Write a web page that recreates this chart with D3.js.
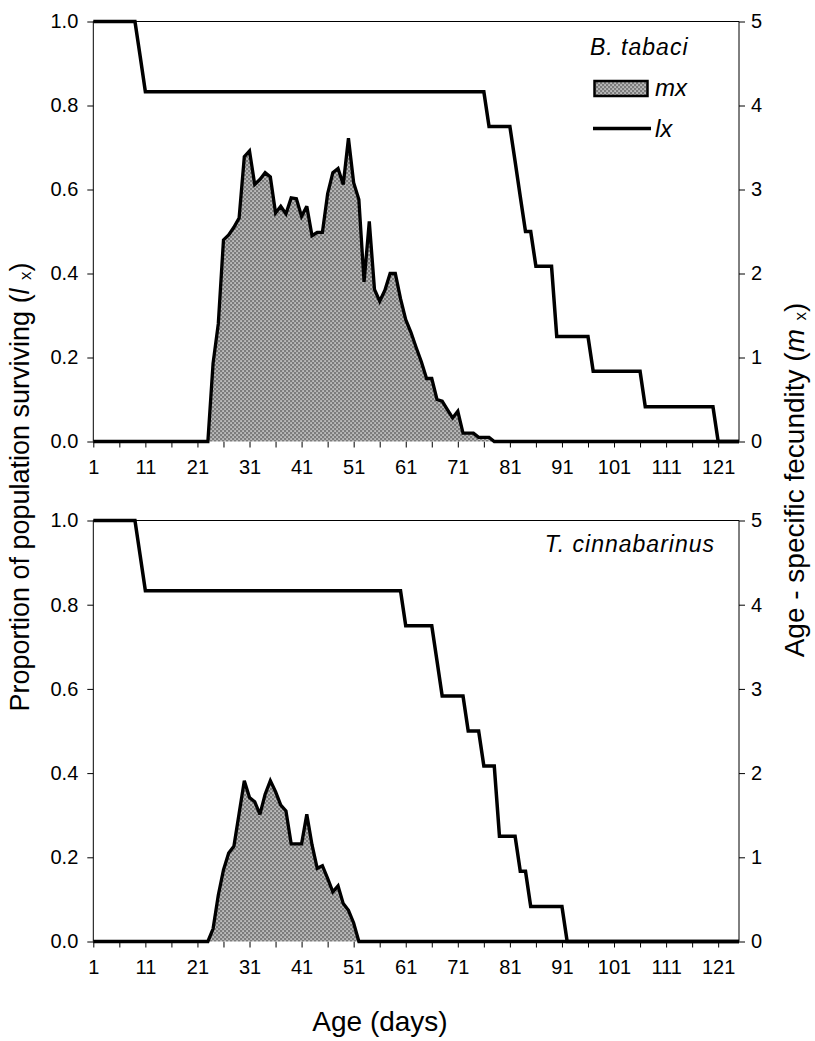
<!DOCTYPE html>
<html>
<head>
<meta charset="utf-8">
<script src="https://cdn.jsdelivr.net/npm/d3@7/dist/d3.min.js"></script>
<style>
  body { margin: 0; background: #fff; }
  svg { display: block; font-family: "Liberation Sans", Arial, sans-serif; }
</style>
</head>
<body>
<div id="chart"></div>
<script>
// age in days, one value per day
const ages = d3.range(1, 126);
const xTickValues = d3.range(1, 122, 5);
const xLabelValues = d3.range(1, 122, 10);
const lxTickValues = [0, 0.2, 0.4, 0.6, 0.8, 1.0];
const mxTickValues = [0, 1, 2, 3, 4, 5];

// B. tabaci survival (lx) and fecundity (mx)
const lxTabaci = [
  1, 1, 1, 1, 1, 1, 1, 1, 1, 0.917,
  0.833, 0.833, 0.833, 0.833, 0.833, 0.833, 0.833, 0.833, 0.833, 0.833,
  0.833, 0.833, 0.833, 0.833, 0.833, 0.833, 0.833, 0.833, 0.833, 0.833,
  0.833, 0.833, 0.833, 0.833, 0.833, 0.833, 0.833, 0.833, 0.833, 0.833,
  0.833, 0.833, 0.833, 0.833, 0.833, 0.833, 0.833, 0.833, 0.833, 0.833,
  0.833, 0.833, 0.833, 0.833, 0.833, 0.833, 0.833, 0.833, 0.833, 0.833,
  0.833, 0.833, 0.833, 0.833, 0.833, 0.833, 0.833, 0.833, 0.833, 0.833,
  0.833, 0.833, 0.833, 0.833, 0.833, 0.833, 0.75, 0.75, 0.75, 0.75,
  0.75, 0.667, 0.583, 0.5, 0.5, 0.417, 0.417, 0.417, 0.417, 0.25,
  0.25, 0.25, 0.25, 0.25, 0.25, 0.25, 0.167, 0.167, 0.167, 0.167,
  0.167, 0.167, 0.167, 0.167, 0.167, 0.167, 0.083, 0.083, 0.083, 0.083,
  0.083, 0.083, 0.083, 0.083, 0.083, 0.083, 0.083, 0.083, 0.083, 0.083,
  0, 0, 0, 0, 0
];
const mxTabaci = [
  0, 0, 0, 0, 0, 0, 0, 0, 0, 0,
  0, 0, 0, 0, 0, 0, 0, 0, 0, 0,
  0, 0, 0, 0.93, 1.40, 2.40, 2.46, 2.55, 2.66, 3.39,
  3.46, 3.06, 3.12, 3.20, 3.15, 2.72, 2.80, 2.71, 2.90, 2.89,
  2.68, 2.80, 2.45, 2.49, 2.49, 2.95, 3.20, 3.25, 3.06, 3.61,
  3.08, 2.88, 1.90, 2.62, 1.81, 1.67, 1.80, 2.00, 2.00, 1.70,
  1.45, 1.30, 1.12, 0.95, 0.75, 0.75, 0.50, 0.48, 0.38, 0.28,
  0.36, 0.10, 0.10, 0.10, 0.05, 0.05, 0.05, 0, 0, 0,
  0, 0, 0, 0, 0, 0, 0, 0, 0, 0,
  0, 0, 0, 0, 0, 0, 0, 0, 0, 0,
  0, 0, 0, 0, 0, 0, 0, 0, 0, 0,
  0, 0, 0, 0, 0, 0, 0, 0, 0, 0,
  0, 0, 0, 0, 0
];

// T. cinnabarinus survival (lx) and fecundity (mx)
const lxCinna = [
  1, 1, 1, 1, 1, 1, 1, 1, 1, 0.917,
  0.833, 0.833, 0.833, 0.833, 0.833, 0.833, 0.833, 0.833, 0.833, 0.833,
  0.833, 0.833, 0.833, 0.833, 0.833, 0.833, 0.833, 0.833, 0.833, 0.833,
  0.833, 0.833, 0.833, 0.833, 0.833, 0.833, 0.833, 0.833, 0.833, 0.833,
  0.833, 0.833, 0.833, 0.833, 0.833, 0.833, 0.833, 0.833, 0.833, 0.833,
  0.833, 0.833, 0.833, 0.833, 0.833, 0.833, 0.833, 0.833, 0.833, 0.833,
  0.75, 0.75, 0.75, 0.75, 0.75, 0.75, 0.667, 0.583, 0.583, 0.583,
  0.583, 0.583, 0.5, 0.5, 0.5, 0.417, 0.417, 0.417, 0.25, 0.25,
  0.25, 0.25, 0.167, 0.167, 0.083, 0.083, 0.083, 0.083, 0.083, 0.083,
  0.083, 0, 0, 0, 0, 0, 0, 0, 0, 0,
  0, 0, 0, 0, 0, 0, 0, 0, 0, 0,
  0, 0, 0, 0, 0, 0, 0, 0, 0, 0,
  0, 0, 0, 0, 0
];
const mxCinna = [
  0, 0, 0, 0, 0, 0, 0, 0, 0, 0,
  0, 0, 0, 0, 0, 0, 0, 0, 0, 0,
  0, 0, 0, 0.15, 0.55, 0.85, 1.05, 1.13, 1.52, 1.91,
  1.71, 1.66, 1.51, 1.75, 1.91, 1.78, 1.62, 1.55, 1.16, 1.16,
  1.16, 1.51, 1.15, 0.87, 0.90, 0.75, 0.59, 0.66, 0.45, 0.37,
  0.22, 0, 0, 0, 0, 0, 0, 0, 0, 0,
  0, 0, 0, 0, 0, 0, 0, 0, 0, 0,
  0, 0, 0, 0, 0, 0, 0, 0, 0, 0,
  0, 0, 0, 0, 0, 0, 0, 0, 0, 0,
  0, 0, 0, 0, 0, 0, 0, 0, 0, 0,
  0, 0, 0, 0, 0, 0, 0, 0, 0, 0,
  0, 0, 0, 0, 0, 0, 0, 0, 0, 0,
  0, 0, 0, 0, 0
];

const width = 815, height = 1041;
const left = 93.3, right = 739;

const svg = d3.select("#chart").append("svg")
    .attr("width", width)
    .attr("height", height);

// gray cross-hatch fill used for mx
const pat = svg.append("defs").append("pattern")
    .attr("id", "hatch")
    .attr("patternUnits", "userSpaceOnUse")
    .attr("width", 4).attr("height", 4);
pat.append("rect").attr("width", 4).attr("height", 4).attr("fill", "#7c7c7c");
pat.append("rect").attr("x", 0.4).attr("y", 0.4).attr("width", 1.3).attr("height", 1.3).attr("fill", "#fff");
pat.append("rect").attr("x", 2.4).attr("y", 2.4).attr("width", 1.3).attr("height", 1.3).attr("fill", "#fff");

const x = d3.scaleLinear().domain([1, 125]).range([left, right]);

function drawPanel(top, bottom, lx, mx) {
    const yL = d3.scaleLinear().domain([0, 1]).range([bottom, top]);
    const yR = d3.scaleLinear().domain([0, 5]).range([bottom, top]);
    const g = svg.append("g");

    // thin frame (bottom edge comes from the thick zero lines)
    g.append("path")
        .attr("d", `M${left},${bottom}V${top}H${right}V${bottom}`)
        .attr("fill", "none").attr("stroke", "#000").attr("stroke-width", 1);

    const xAxis = g.append("g")
        .attr("transform", `translate(0,${bottom})`)
        .call(d3.axisBottom(x).tickValues(xTickValues)
            .tickFormat(d => xLabelValues.includes(d) ? d : "")
            .tickSize(6).tickSizeOuter(0).tickPadding(12));
    xAxis.selectAll("text").attr("font-size", 20).attr("font-family", null).attr("fill", "#000");

    const yAxisL = g.append("g")
        .attr("transform", `translate(${left},0)`)
        .call(d3.axisLeft(yL).tickValues(lxTickValues).tickFormat(d3.format(".1f"))
            .tickSize(6).tickSizeOuter(0).tickPadding(9));
    yAxisL.selectAll("text").attr("font-size", 20).attr("font-family", null).attr("fill", "#000");

    const yAxisR = g.append("g")
        .attr("transform", `translate(${right},0)`)
        .call(d3.axisRight(yR).tickValues(mxTickValues).tickFormat(d3.format("d"))
            .tickSize(6).tickSizeOuter(0).tickPadding(6));
    yAxisR.selectAll("text").attr("font-size", 20).attr("font-family", null).attr("fill", "#000");
    g.selectAll(".domain").remove();

    const area = d3.area()
        .x((d, i) => x(ages[i]))
        .y0(yR(0))
        .y1(d => yR(d));
    const mxLine = d3.line()
        .x((d, i) => x(ages[i]))
        .y(d => yR(d));
    const lxLine = d3.line()
        .x((d, i) => x(ages[i]))
        .y(d => yL(d));

    g.append("path").datum(mx)
        .attr("d", area)
        .attr("fill", "url(#hatch)");
    g.append("path").datum(mx)
        .attr("d", mxLine)
        .attr("fill", "none").attr("stroke", "#000")
        .attr("stroke-width", 3.3).attr("stroke-linejoin", "miter").attr("stroke-miterlimit", 3);
    g.append("path").datum(lx)
        .attr("d", lxLine)
        .attr("fill", "none").attr("stroke", "#000")
        .attr("stroke-width", 3.5).attr("stroke-linejoin", "miter").attr("stroke-miterlimit", 3);
    return g;
}

const topPanel = drawPanel(21.5, 441.5, lxTabaci, mxTabaci);
const bottomPanel = drawPanel(520.5, 941.5, lxCinna, mxCinna);

// species names and legend
topPanel.append("text")
    .attr("x", 590).attr("y", 55)
    .attr("font-size", 23).attr("font-style", "italic").attr("letter-spacing", 1)
    .text("B. tabaci");
topPanel.append("rect")
    .attr("x", 594.5).attr("y", 81).attr("width", 53).attr("height", 15)
    .attr("fill", "url(#hatch)").attr("stroke", "#000").attr("stroke-width", 2.5);
topPanel.append("text")
    .attr("x", 655).attr("y", 96)
    .attr("font-size", 24).attr("font-style", "italic")
    .text("mx");
topPanel.append("line")
    .attr("x1", 593).attr("x2", 651).attr("y1", 128.5).attr("y2", 128.5)
    .attr("stroke", "#000").attr("stroke-width", 3.5);
topPanel.append("text")
    .attr("x", 655).attr("y", 137)
    .attr("font-size", 24).attr("font-style", "italic")
    .text("lx");

bottomPanel.append("text")
    .attr("x", 715).attr("y", 552)
    .attr("text-anchor", "end")
    .attr("font-size", 23).attr("font-style", "italic").attr("letter-spacing", 1)
    .text("T. cinnabarinus");

// axis titles
const leftTitle = svg.append("text")
    .attr("transform", "translate(29,487) rotate(-90)")
    .attr("text-anchor", "middle").attr("font-size", 27);
leftTitle.append("tspan").text("Proportion of population surviving (");
leftTitle.append("tspan").attr("font-style", "italic").text("l");
leftTitle.append("tspan").attr("font-size", 17).attr("dy", 2).text("\u2002x");
leftTitle.append("tspan").attr("dy", -2).text(")");

const rightTitle = svg.append("text")
    .attr("transform", "translate(804,480) rotate(-90)")
    .attr("text-anchor", "middle").attr("font-size", 28);
rightTitle.append("tspan").text("Age - specific fecundity (");
rightTitle.append("tspan").attr("font-style", "italic").text("m");
rightTitle.append("tspan").attr("font-size", 17).attr("dy", 2).text("\u2002x");
rightTitle.append("tspan").attr("dy", -2).text(")");

svg.append("text")
    .attr("x", 380).attr("y", 1031)
    .attr("text-anchor", "middle").attr("font-size", 28)
    .text("Age (days)");
</script>
</body>
</html>
